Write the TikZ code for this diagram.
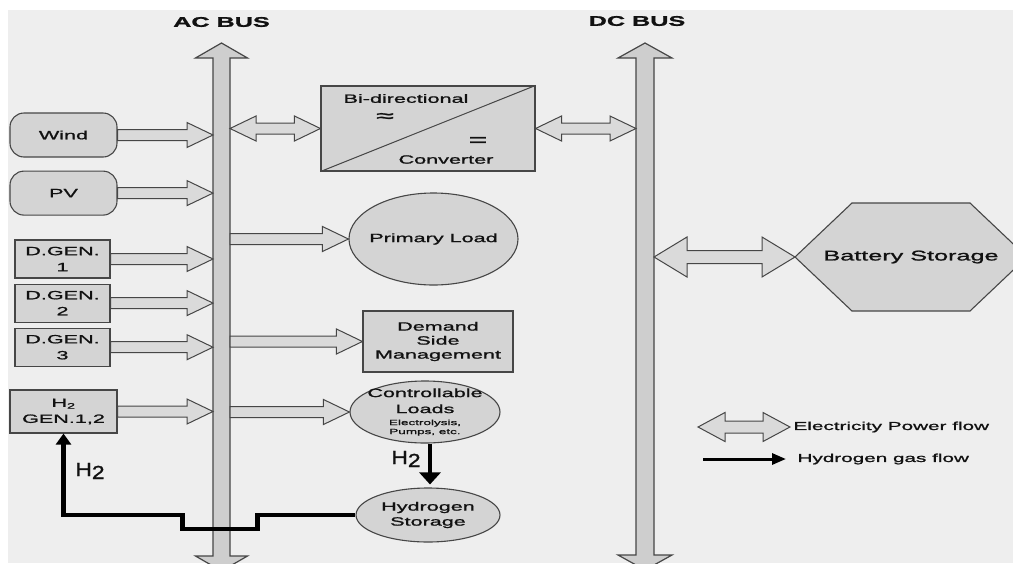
\documentclass[tikz,border=0pt]{standalone}
\usepackage{fontspec}
\setmainfont{Liberation Sans}[FakeStretch=1.8, FakeBold=1.3]
\newfontfamily\narrowsf{Liberation Sans}[FakeStretch=1.2, FakeBold=1.5]
\usetikzlibrary{shapes.geometric,arrows.meta,positioning,calc}
\definecolor{bggray}{RGB}{238,238,238}
\definecolor{boxgray}{RGB}{212,212,212}
\definecolor{arrowgray}{RGB}{218,218,218}
\definecolor{busgray}{RGB}{206,206,206}
\definecolor{edgegray}{RGB}{70,70,70}
\definecolor{inkblack}{RGB}{17,17,17}

\tikzset{
  fat len/.store in=\fatlen, fat head/.store in=\fathead, fat shaft/.store in=\fatshaft,
  fat len=26, fat head=12.5, fat shaft=5.5,
  power/.style={draw=edgegray, fill=arrowgray, line width=1pt, to path={
      let \p1=(\tikztostart), \p2=(\tikztotarget) in
      (\x1,\y1+\fatshaft pt) -- (\x2-\fatlen pt,\y1+\fatshaft pt) -- (\x2-\fatlen pt,\y1+\fathead pt)
      -- (\x2,\y1) -- (\x2-\fatlen pt,\y1-\fathead pt) -- (\x2-\fatlen pt,\y1-\fatshaft pt)
      -- (\x1,\y1-\fatshaft pt) -- cycle}},
  power both/.style={draw=edgegray, fill=arrowgray, line width=1pt, to path={
      let \p1=(\tikztostart), \p2=(\tikztotarget) in
      (\x1,\y1) -- (\x1+\fatlen pt,\y1+\fathead pt) -- (\x1+\fatlen pt,\y1+\fatshaft pt)
      -- (\x2-\fatlen pt,\y1+\fatshaft pt) -- (\x2-\fatlen pt,\y1+\fathead pt) -- (\x2,\y1)
      -- (\x2-\fatlen pt,\y1-\fathead pt) -- (\x2-\fatlen pt,\y1-\fatshaft pt)
      -- (\x1+\fatlen pt,\y1-\fatshaft pt) -- (\x1+\fatlen pt,\y1-\fathead pt) -- cycle}}
}

\begin{document}
\begin{tikzpicture}[x=1pt, y=-1pt,
    every node/.style={font=\fontsize{12}{14}\selectfont, text=inkblack},
    source/.style={draw=edgegray, fill=boxgray, line width=1.1pt, rounded corners=14pt, minimum width=107pt, minimum height=44pt},
    gen/.style={draw=edgegray, fill=boxgray, line width=1.1pt, minimum width=95pt, minimum height=38pt, inner sep=0pt, align=center, font=\fontsize{12}{16}\selectfont},
    load/.style={draw=edgegray, fill=boxgray, line width=1.1pt, ellipse, inner sep=0pt},
    bus/.style={draw=edgegray, fill=busgray, line width=1.2pt},
    gasflow/.style={draw=black, line width=4.5pt, -{Triangle[length=12pt, width=21pt]}},
    htwo/.style={font=\narrowsf\fontsize{19}{21}\selectfont}
  ]
\useasboundingbox (0,0) rectangle (1013,563);
\fill[bggray] (8,10) rectangle (1013,563);

% bus bars
\draw[bus] (213,556) -- (213,58) -- (195.5,58) -- (221.5,43) -- (247.5,58) -- (230,58) -- (230,556) -- (247.5,556) -- (221.5,571) -- (195.5,556) -- cycle;
\draw[bus] (636,555) -- (636,58) -- (618,58) -- (645,43) -- (672,58) -- (654,58) -- (654,555) -- (672,555) -- (645,570) -- (618,555) -- cycle;
\coordinate (acL) at (213,0); \coordinate (acR) at (230,0);
\coordinate (dcL) at (636,0); \coordinate (dcR) at (654,0);
\node[font=\fontsize{14}{16}\selectfont\bfseries] (aclabel) at (221.5,22) {AC BUS};
\node[font=\fontsize{14}{16}\selectfont\bfseries] (dclabel) at (637,21) {DC BUS};

% sources
\node[source] (wind) at (63.5,135) {Wind};
\node[source, below=13pt of wind] (pv) {PV};
\node[gen] (dgen1) at (62.5,259) {D.GEN.\\1};
\node[gen, below=5pt of dgen1] (dgen2) {D.GEN.\\2};
\node[gen, below=5pt of dgen2] (dgen3) {D.GEN.\\3};
\node[gen, minimum width=107pt, minimum height=43pt] (h2gen) at (63.5,411.5) {H\textsubscript{2}\\GEN.1,2};

% converter
\node[draw=edgegray, fill=boxgray, line width=1.1pt, minimum width=214pt, minimum height=85pt] (conv) at (428,128.5) {};
\draw[edgegray, line width=1pt] (conv.south west) -- (conv.north east);
\node (convtop) at ([shift={(-22,-30)}]conv.center) {Bi-directional};
\node[font=\fontsize{18}{18}\selectfont] (convac) at ([shift={(-43,-11)}]conv.center) {≈};
\node[font=\fontsize{18}{18}\selectfont] (convdc) at ([shift={(50,13)}]conv.center) {=};
\node (convbot) at ([shift={(18,31)}]conv.center) {Converter};

% loads
\node[load, minimum width=169pt, minimum height=92pt, label={center:Primary Load}] (prim) at (433.5,239) {};
\node[draw=edgegray, fill=boxgray, line width=1.1pt, minimum width=150pt, minimum height=61pt, align=center] (dsm) at (438,341.5) {Demand\\Side\\Management};
\node[load, minimum width=150pt, minimum height=62pt, label={[align=center]center:Controllable\\[2pt]Loads\\[-2pt]{\fontsize{7.5}{8}\selectfont Electrolysis,}\\[-5pt]{\fontsize{7.5}{8}\selectfont Pumps, etc.}}] (ctrl) at (425,412) {};
\node[load, minimum width=144pt, minimum height=54pt, label={[align=center, font=\fontsize{12}{15}\selectfont]center:Hydrogen\\Storage}] (h2sto) at (428,515) {};

% battery
\filldraw[draw=edgegray, fill=boxgray, line width=1.1pt] (795,257) coordinate (batW) -- (852,203) -- (970,203) -- (1027,257) -- (970,311) -- (852,311) -- cycle;
\node[font=\fontsize{14}{16}\selectfont] (bat) at (911,257) {Battery Storage};

% power flows
\foreach \src in {wind,pv,dgen1,dgen2,dgen3,h2gen}
  \path[power] (\src.east) to (\src.east -| acL);
\foreach \load in {prim,dsm,ctrl}
  \path[power] (\load.west -| acR) to (\load.west);
\path[power both] (conv.west -| acR) to (conv.west);
\path[power both] (conv.east) to (conv.east -| dcL);
\path[power both, fat len=33, fat head=20, fat shaft=6.5] (batW -| dcR) to (batW);

% hydrogen flows
\draw[gasflow, shorten >=3pt] ([xshift=5pt]ctrl.south) -- ([xshift=5pt]ctrl.south |- h2sto.north);
\node[htwo] (h2mid) at (406,459) {H\raisebox{-3pt}{2}};
\draw[gasflow, -{Triangle[length=11pt, width=15pt]}] (h2sto.west) -- ++(-98,0) -- ++(0,14) -- ++(-75,0) -- ++(0,-14) -- (h2gen.south |- h2sto.west) -- (h2gen.south);
\node[htwo] (h2left) at (90,471) {H\raisebox{-3pt}{2}};

% legend
\node[anchor=west, font=\fontsize{11.5}{13}\selectfont] (legpow) at (790,427) {Electricity Power flow};
\node[anchor=west, font=\fontsize{11.5}{13}\selectfont] (leggas) at (794,459) {Hydrogen gas flow};
\coordinate (legpowA) at (698,427);
\coordinate (leggasA) at (703,459);
\path[power both, fat len=27, fat head=14.5, fat shaft=6] (legpowA) to (legpow.west);
\draw[gasflow, line width=3pt, -{Triangle[length=14pt, width=11pt]}] (leggasA) -- ([xshift=-8pt]leggas.west);
\end{tikzpicture}
\end{document}
